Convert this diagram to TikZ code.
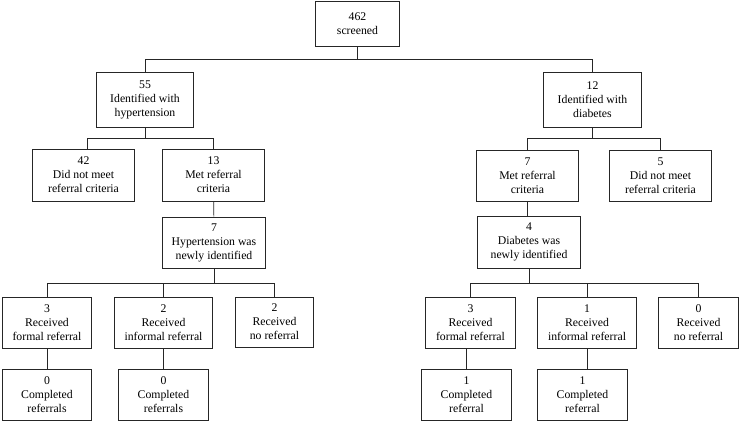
\documentclass[tikz,border=0pt]{standalone}
\usepackage{fontspec}
\setmainfont{Liberation Serif}
\usepackage{tikz}
\usetikzlibrary{calc}

\begin{document}
\begin{tikzpicture}[x=1bp,y=-1bp]
          \tikzstyle{bnode} = [draw=black!85, line width=0.8pt, rectangle, inner sep = 0pt, align=center,
            font=\fontsize{11.8}{14}\selectfont]
          \tikzstyle{link} = [black!85, line width=0.6pt]
          \useasboundingbox (0,0) rectangle (741,423);

          \node[bnode, minimum width=85, minimum height=45] (scr) at (357.5, 23.5) {462\\screened};
          \node[bnode, minimum width=98, minimum height=55] (hyp) at (145, 99.5) {55\\Identified with\\hypertension};
          \node[bnode, minimum width=99, minimum height=55] (dia) at (592.5, 99.5) {12\\Identified with\\diabetes};

          \node[bnode, minimum width=103, minimum height=52] (hno) at (83.5, 175) {42\\Did not meet\\referral criteria};
          \node[bnode, minimum width=103, minimum height=52] (hmet) at (213.5, 175) {13\\Met referral\\criteria};
          \node[bnode, minimum width=103, minimum height=51] (dmet) at (527.5, 175.5) {7\\Met referral\\criteria};
          \node[bnode, minimum width=103, minimum height=51] (dno) at (660.5, 175.5) {5\\Did not meet\\referral criteria};

          \node[bnode, minimum width=104, minimum height=51] (hnew) at (214, 242.5) {7\\Hypertension was\\newly identified};
          \node[bnode, minimum width=104, minimum height=52] (dnew) at (529, 242) {4\\Diabetes was\\newly identified};

          \node[bnode, minimum width=90, minimum height=51] (hfor) at (47, 322.5) {3\\Received\\formal referral};
          \node[bnode, minimum width=99, minimum height=51] (hinf) at (163.5, 322.5) {2\\Received\\informal referral};
          \node[bnode, minimum width=79, minimum height=50] (hnon) at (274.5, 322) {2\\Received\\no referral};
          \node[bnode, minimum width=91, minimum height=51] (dfor) at (470.5, 322.5) {3\\Received\\formal referral};
          \node[bnode, minimum width=100, minimum height=51] (dinf) at (587, 322.5) {1\\Received\\informal referral};
          \node[bnode, minimum width=81, minimum height=51] (dnon) at (698.5, 322.5) {0\\Received\\no referral};

          \node[bnode, minimum width=90, minimum height=51] (hfc) at (47, 394.5) {0\\Completed\\referrals};
          \node[bnode, minimum width=91, minimum height=51] (hic) at (163.5, 394.5) {0\\Completed\\referrals};
          \node[bnode, minimum width=91, minimum height=51] (dfc) at (466.5, 394.5) {1\\Completed\\referral};
          \node[bnode, minimum width=91, minimum height=51] (dic) at (582.5, 394.5) {1\\Completed\\referral};

          % screened -> both conditions
          \draw[link] (scr.south) -- ++(0,13) coordinate (js);
          \draw[link] (js) -| (hyp.north);
          \draw[link] (js) -| (dia.north);

          % hypertension branch
          \draw[link] (hyp.south) -- ++(0,11) coordinate (jh);
          \draw[link] (jh) -| ($(hno.north)+(3.5,0)$);
          \draw[link] (jh) -| (hmet.north);
          \draw[link] (hmet) -- (hnew);
          \draw[link] (hnew.south) -- ++(0,14.5) coordinate (jhn);
          \draw[link] (jhn) -| (hfor.north);
          \draw[link] (jhn) -| (hinf.north);
          \draw[link] (jhn) -| (hnon.north);
          \draw[link] (hfor) -- (hfc);
          \draw[link] (hinf) -- (hic);

          % diabetes branch
          \draw[link] (dia.south) -- ++(0,11) coordinate (jd);
          \draw[link] (jd) -| (dmet.north);
          \draw[link] (jd) -| (dno.north);
          \draw[link] (dmet) -- (dmet |- dnew.north);
          \draw[link] (dnew.south) -- ++(0,14.5) coordinate (jdn);
          \draw[link] (jdn) -| (dfor.north);
          \draw[link] (jdn) -| (dinf.north);
          \draw[link] (jdn) -| (dnon.north);
          \draw[link] (dfc.north) -- (dfc.north |- dfor.south);
          \draw[link] (dinf.south) -- (dinf.south |- dic.north);
        \end{tikzpicture}
\end{document}
